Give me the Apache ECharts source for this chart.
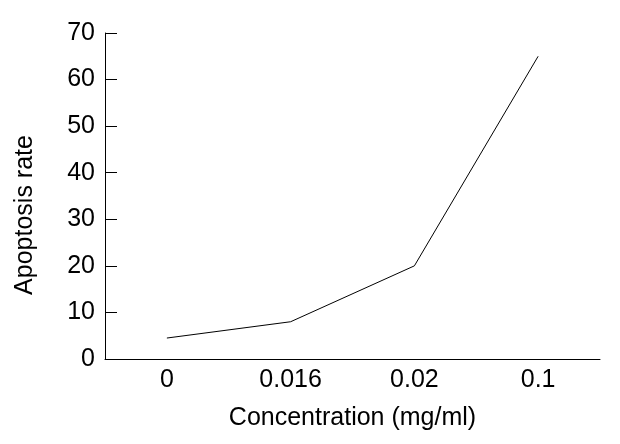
<!DOCTYPE html>
<html><head><meta charset="utf-8">
<script src="https://cdn.jsdelivr.net/npm/echarts@6/dist/echarts.min.js"></script>
<style>html,body{margin:0;padding:0;background:#fff}#c{width:620px;height:444px}</style>
</head><body><div id="c"></div>
<script>
const categories = ['0', '0.016', '0.02', '0.1'];
const apoptosisRate = [4.5, 8, 20, 65];
const yMin = 0, yMax = 70, yStep = 10;
const xTitle = 'Concentration (mg/ml)';
const yTitle = 'Apoptosis rate';

const font = 'Liberation Sans';
const fs = 25;
const chart = echarts.init(document.getElementById('c'), null, {renderer: 'canvas'});
chart.setOption({
  animation: false,
  backgroundColor: '#fff',
  grid: {left: 105, right: 20, top: 33, bottom: 85, containLabel: false},
  xAxis: {
    type: 'category', data: categories, boundaryGap: true,
    axisLine: {lineStyle: {color: '#000', width: 1}},
    axisTick: {inside: true, length: 11, lineStyle: {color: '#000'}},
    axisLabel: {color: '#000', fontFamily: font, fontSize: fs, margin: 9},
    name: xTitle, nameLocation: 'middle', nameGap: 47,
    nameTextStyle: {color: '#000', fontFamily: font, fontSize: fs}
  },
  yAxis: {
    type: 'value', min: yMin, max: yMax, interval: yStep,
    axisLine: {show: true, lineStyle: {color: '#000', width: 1}},
    axisTick: {show: true, inside: true, length: 12, lineStyle: {color: '#000'}},
    splitLine: {show: false},
    axisLabel: {color: '#000', fontFamily: font, fontSize: fs, margin: 10},
    name: yTitle, nameLocation: 'middle', nameGap: 67,
    nameTextStyle: {color: '#000', fontFamily: font, fontSize: fs, padding: [0, 38, 0, 0]}
  },
  series: [{
    type: 'line', data: apoptosisRate, symbol: 'none',
    lineStyle: {color: '#000', width: 1}
  }]
});
</script></body></html>
